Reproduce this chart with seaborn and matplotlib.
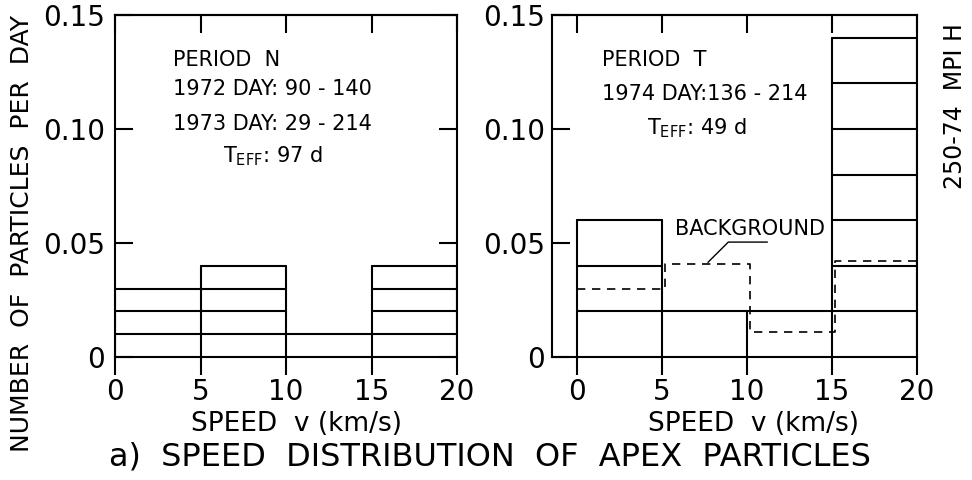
import numpy as np
import pandas as pd
import matplotlib
matplotlib.use("Agg")
import matplotlib.pyplot as plt
import seaborn as sns

# speed bins (km/s)
bin_edges = [0, 5, 10, 15, 20]
# particles counted per bin, each particle worth 1/T_eff per day
counts_N = [3, 4, 1, 4]
unit_N = 0.01
counts_T = [3, 1, 1, 7]
unit_T = 0.02
# background (dashed), period T
bg_edges = [0, 5.2, 10.2, 15.2, 20]
bg_rate = [0.030, 0.041, 0.011, 0.042, 0.042]
# leader line for BACKGROUND label
lead_x = [7.7, 8.9, 11.2]
lead_y = [0.0415, 0.0504, 0.0504]

xticks = [0, 5, 10, 15, 20]
yticks = [0, 0.05, 0.10, 0.15]
ytick_labels = ["0", "0.05", "0.10", "0.15"]


def stack_segments(edges, counts, unit):
    rows = []
    seg = 0
    for i, c in enumerate(counts):
        for k in range(1, c + 1):
            rows.append((edges[i], k * unit, seg))
            rows.append((edges[i + 1], k * unit, seg))
            seg += 1
    for j, e in enumerate(edges):
        left = counts[j - 1] if j > 0 else 0
        right = counts[j] if j < len(counts) else 0
        rows.append((e, 0, seg))
        rows.append((e, max(left, right) * unit, seg))
        seg += 1
    return pd.DataFrame(rows, columns=["v", "rate", "seg"])


sns.set_style("ticks")
plt.rcParams["font.family"] = ["DejaVu Sans"]
plt.rcParams["mathtext.default"] = "regular"
plt.rcParams["text.color"] = "black"
plt.rcParams["axes.labelcolor"] = "black"
plt.rcParams["axes.edgecolor"] = "black"
plt.rcParams["xtick.color"] = "black"
plt.rcParams["ytick.color"] = "black"
LW = 1.5

fig = plt.figure(figsize=(9.72, 4.8), dpi=100)
axL = fig.add_axes([115 / 972, 123 / 480, 342 / 972, 342 / 480])
axR = fig.add_axes([552 / 972, 123 / 480, 365 / 972, 342 / 480])

for ax, counts, unit in [(axL, counts_N, unit_N), (axR, counts_T, unit_T)]:
    df = stack_segments(bin_edges, counts, unit)
    sns.lineplot(data=df, x="v", y="rate", units="seg", estimator=None, sort=False,
                 color="black", lw=LW, ax=ax, legend=False)

sns.lineplot(x=bg_edges, y=bg_rate, drawstyle="steps-post", color="black", lw=1.2,
             linestyle=(0, (5, 4)), ax=axR, legend=False)
axR.plot(lead_x, lead_y, color="black", lw=1.0)

axL.set_xlim(0, 20)
axR.set_xlim(-1.47, 20)
for ax in (axL, axR):
    ax.set_ylim(0, 0.15)
    ax.set_xticks(xticks)
    ax.set_xticklabels([str(t) for t in xticks])
    ax.set_yticks(yticks)
    ax.set_yticklabels(ytick_labels)
    for s in ax.spines.values():
        s.set_visible(True)
        s.set_linewidth(LW)
        s.set_color("black")
    ax.tick_params(axis="x", direction="out", length=13, width=LW, labelsize=20, pad=2)
    ax.set_ylabel("")
    ax.set_xlabel("SPEED  v (km/s)", fontsize=19)
    sec = ax.secondary_xaxis("top")
    sec.set_xticks(xticks)
    sec.tick_params(direction="in", length=13, width=LW, labeltop=False)
    sec.spines["top"].set_linewidth(LW)

axL.tick_params(axis="y", direction="in", length=13, width=LW, labelsize=20, pad=7,
                left=True, right=True)
axR.tick_params(axis="y", direction="in", length=13, width=LW, labelsize=20, pad=5,
                left=True, right=False)
axL.xaxis.set_label_coords(0.532, -0.158)
axR.xaxis.set_label_coords(0.553, -0.158)

# panel annotations
axL.text(3.4, 0.1303, "PERIOD  N", fontsize=15, va="center")
axL.text(3.4, 0.1175, "1972 DAY: 90 - 140", fontsize=15, va="center")
axL.text(3.4, 0.1022, "1973 DAY: 29 - 214", fontsize=15, va="center")
axL.text(6.3, 0.0880, r"T$_{EFF}$: 97 d", fontsize=15, va="center")

axR.text(1.5, 0.1303, "PERIOD  T", fontsize=15, va="center")
axR.text(1.5, 0.1154, "1974 DAY:136 - 214", fontsize=15, va="center")
axR.text(4.1, 0.1004, r"T$_{EFF}$: 49 d", fontsize=15, va="center")
axR.text(10.2, 0.0561, "BACKGROUND", fontsize=15, va="center", ha="center")

fig.text(22 / 972, 1 - 233 / 480, "NUMBER  OF  PARTICLES  PER  DAY", rotation=90,
         fontsize=18, ha="center", va="center")
fig.text(955 / 972, 1 - 106 / 480, "250-74  MPI H", rotation=90,
         fontsize=17, ha="center", va="center")
fig.text(490 / 972, 1 - 457 / 480, "a)  SPEED  DISTRIBUTION  OF  APEX  PARTICLES",
         fontsize=23, ha="center", va="center")

fig.savefig("out.png", dpi=100, facecolor="white")
